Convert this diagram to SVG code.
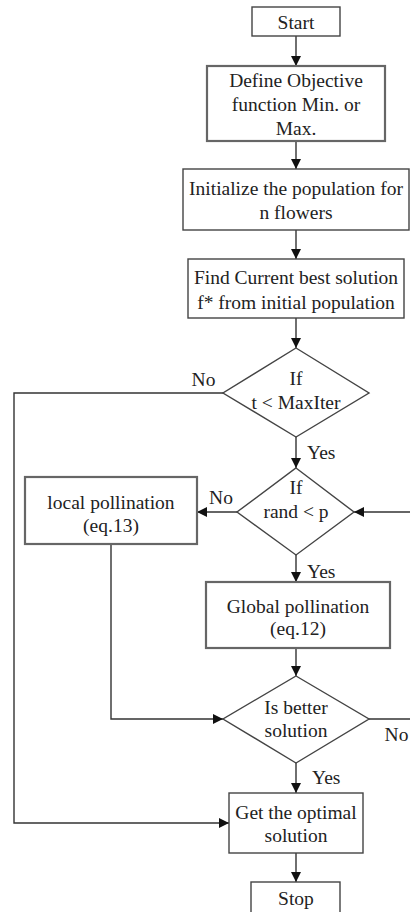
<svg xmlns="http://www.w3.org/2000/svg" width="410" height="912" viewBox="0 0 410 912">
<style>
.b{fill:#fff;stroke:#444;stroke-width:1.4}
.t{fill:#ffffff;stroke:#666;stroke-width:2.2}
text{font-family:"Liberation Serif","Times New Roman",serif;font-size:19.5px;fill:#222;text-anchor:middle}
.l{text-anchor:start}
.c{fill:none;stroke:#333;stroke-width:1.4}
</style>
<defs>
<marker id="a" markerWidth="10" markerHeight="10" refX="10" refY="5" orient="auto" markerUnits="userSpaceOnUse">
<path d="M0,0 L10,5 L0,10 Z" fill="#111"/>
</marker>
</defs>
<rect width="410" height="912" fill="#fff"/>
<g id="connectors">
<path class="c" d="M296,36 V66" marker-end="url(#a)"/>
<path class="c" d="M296,141 V169" marker-end="url(#a)"/>
<path class="c" d="M296,230 V259" marker-end="url(#a)"/>
<path class="c" d="M296,318 V348" marker-end="url(#a)"/>
<path class="c" d="M223,393 H14 V823 H229" marker-end="url(#a)"/>
<path class="c" d="M296,437 V468" marker-end="url(#a)"/>
<path class="c" d="M237,512 H197" marker-end="url(#a)"/>
<path class="c" d="M410,512 H354" marker-end="url(#a)"/>
<path class="c" d="M296,555 V582" marker-end="url(#a)"/>
<path class="c" d="M296,648 V676" marker-end="url(#a)"/>
<path class="c" d="M111,544 V719 H223" marker-end="url(#a)"/>
<path class="c" d="M369,719 H410"/>
<path class="c" d="M296,763 V793" marker-end="url(#a)"/>
<path class="c" d="M296,853 V882" marker-end="url(#a)"/>
<text x="203.5" y="386">No</text>
<text class="l" x="307" y="459">Yes</text>
<text x="221" y="504">No</text>
<text class="l" x="307" y="578">Yes</text>
<text x="396.5" y="741">No</text>
<text class="l" x="312" y="784">Yes</text>
</g>
<g id="start">
<rect class="b" x="252" y="7" width="88" height="29"/>
<text x="296" y="28.5">Start</text>
</g>
<g id="define">
<rect class="t" x="207" y="66" width="178" height="75"/>
<text x="296" y="86.5">Define Objective</text>
<text x="296" y="110.5">function Min. or</text>
<text x="296" y="134.5">Max.</text>
</g>
<g id="init">
<rect class="b" x="183" y="169" width="226" height="61"/>
<text x="296" y="194.5">Initialize the population for</text>
<text x="296" y="218.5">n flowers</text>
</g>
<g id="find">
<rect class="b" x="188" y="259" width="216" height="59"/>
<text x="296" y="283.5">Find Current best solution</text>
<text x="296" y="308.5">f* from initial population</text>
</g>
<g id="iter">
<path class="b" d="M296,348 L369,393 L296,437 L223,393 Z"/>
<text x="296" y="385">If</text>
<text x="296" y="409">t &lt; MaxIter</text>
</g>
<g id="rand">
<path class="b" d="M296,468 L354,512 L296,555 L237,512 Z"/>
<text x="296" y="494">If</text>
<text x="296" y="518">rand &lt; p</text>
</g>
<g id="local">
<rect class="t" x="25" y="477" width="172" height="67"/>
<text x="111" y="509">local pollination</text>
<text x="111" y="532">(eq.13)</text>
</g>
<g id="global">
<rect class="t" x="206" y="582" width="184" height="66"/>
<text x="298" y="613">Global pollination</text>
<text x="298" y="635">(eq.12)</text>
</g>
<g id="better">
<path class="b" d="M296,676 L369,719 L296,763 L223,719 Z"/>
<text x="296" y="714">Is better</text>
<text x="296" y="737">solution</text>
</g>
<g id="optimal">
<rect class="b" x="229" y="793" width="134" height="60"/>
<text x="296" y="818.5">Get the optimal</text>
<text x="296" y="841.5">solution</text>
</g>
<g id="stop">
<rect class="b" x="251" y="882" width="89" height="40"/>
<text x="296" y="904.5">Stop</text>
</g>
</svg>
